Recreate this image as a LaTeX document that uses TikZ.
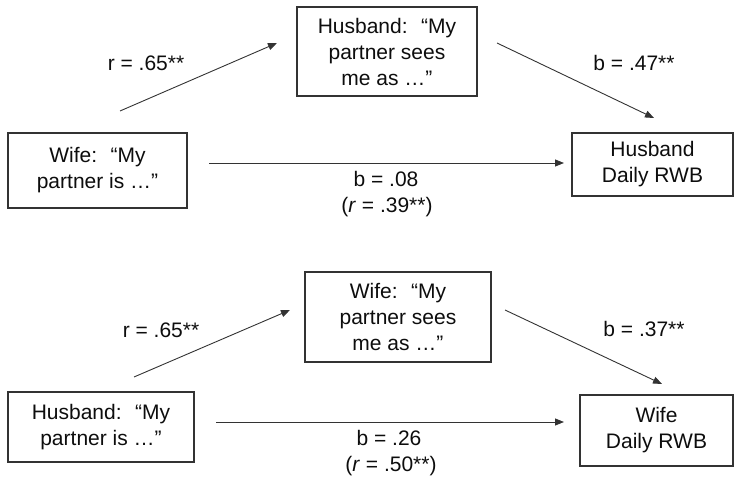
\documentclass[tikz,border=0pt]{standalone}
\usepackage{fontspec}
\setmainfont{Liberation Sans}
\usetikzlibrary{arrows.meta}
\definecolor{ink}{HTML}{0D0D0D}
\definecolor{edge}{HTML}{333333}
\tikzset{
  box/.style={draw=edge, line width=1.1pt, align=center, inner sep=0pt,
    text=ink, font=\fontsize{21}{26}\selectfont},
  conn/.style={draw=edge, line width=0.9pt, -{Triangle[length=9pt,width=7pt]}},
  lab/.style={text=ink, align=center, inner sep=0pt, font=\fontsize{21}{26}\selectfont}
}
\begin{document}
\begin{tikzpicture}[x=1pt,y=-1pt]
\useasboundingbox (0,0) rectangle (734,478);
% top model
\node[box, minimum width=179pt, minimum height=75pt] (w1) at (97.5,170.5) {Wife:~ “My\\partner is …”};
\node[box, minimum width=180pt, minimum height=89pt] (h1m) at (387,51.5) {Husband:~ “My\\partner sees\\me as …”};
\node[box, minimum width=161pt, minimum height=63pt] (h1o) at (652.5,164.5) {Husband\\Daily RWB};
\coordinate (a1s) at (120,111); \coordinate (a1e) at (277,43);
\coordinate (a2s) at (497,43);  \coordinate (a2e) at (654,118);
\coordinate (a3s) at (209,163); \coordinate (a3e) at (564,163);
\draw[conn] (a1s) -- (a1e);
\draw[conn] (a2s) -- (a2e);
\draw[conn] (a3s) -- (a3e);
\node[lab] (l1) at (146,63) {r = .65**};
\node[lab] (l2) at (634,63) {b = .47**};
\node[lab, anchor=base] (l3) at (386,187) {b = .08};
\node[lab, anchor=base] (l4) at (387,213) {(\textit{r} = .39**)};
% bottom model
\node[box, minimum width=186pt, minimum height=70pt] (h2) at (101,427) {Husband:~ “My\\partner is …”};
\node[box, minimum width=186pt, minimum height=90pt] (w2m) at (398,317) {Wife:~ “My\\partner sees\\me as …”};
\node[box, minimum width=153pt, minimum height=71pt] (w2o) at (656.5,430.5) {Wife\\Daily RWB};
\coordinate (b1s) at (134,377); \coordinate (b1e) at (290,310);
\coordinate (b2s) at (505,310); \coordinate (b2e) at (662,384);
\coordinate (b3s) at (216,422); \coordinate (b3e) at (564,422);
\draw[conn] (b1s) -- (b1e);
\draw[conn] (b2s) -- (b2e);
\draw[conn] (b3s) -- (b3e);
\node[lab] (m1) at (161,330) {r = .65**};
\node[lab] (m2) at (644,329) {b = .37**};
\node[lab, anchor=base] (m3) at (389,445) {b = .26};
\node[lab, anchor=base] (m4) at (391,471) {(\textit{r} = .50**)};
\end{tikzpicture}
\end{document}
